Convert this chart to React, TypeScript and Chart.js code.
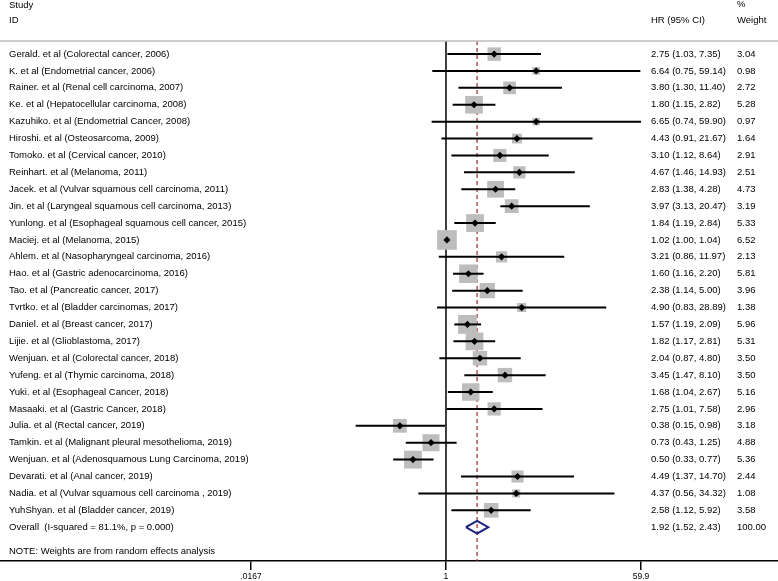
import React, { useEffect, useRef } from 'react';
import { Chart, registerables } from 'chart.js';

Chart.register(...registerables);

const studies = [
  'Gerald. et al (Colorectal cancer, 2006)',
  'K. et al (Endometrial cancer, 2006)',
  'Rainer. et al (Renal cell carcinoma, 2007)',
  'Ke. et al (Hepatocellular carcinoma, 2008)',
  'Kazuhiko. et al (Endometrial Cancer, 2008)',
  'Hiroshi. et al (Osteosarcoma, 2009)',
  'Tomoko. et al (Cervical cancer, 2010)',
  'Reinhart. et al (Melanoma, 2011)',
  'Jacek. et al (Vulvar squamous cell carcinoma, 2011)',
  'Jin. et al (Laryngeal squamous cell carcinoma, 2013)',
  'Yunlong. et al (Esophageal squamous cell cancer, 2015)',
  'Maciej. et al (Melanoma, 2015)',
  'Ahlem. et al (Nasopharyngeal carcinoma, 2016)',
  'Hao. et al (Gastric adenocarcinoma, 2016)',
  'Tao. et al (Pancreatic cancer, 2017)',
  'Tvrtko. et al (Bladder carcinomas, 2017)',
  'Daniel. et al (Breast cancer, 2017)',
  'Lijie. et al (Glioblastoma, 2017)',
  'Wenjuan. et al (Colorectal cancer, 2018)',
  'Yufeng. et al (Thymic carcinoma, 2018)',
  'Yuki. et al (Esophageal Cancer, 2018)',
  'Masaaki. et al (Gastric Cancer, 2018)',
  'Julia. et al (Rectal cancer, 2019)',
  'Tamkin. et al (Malignant pleural mesothelioma, 2019)',
  'Wenjuan. et al (Adenosquamous Lung Carcinoma, 2019)',
  'Devarati. et al (Anal cancer, 2019)',
  'Nadia. et al (Vulvar squamous cell carcinoma , 2019)',
  'YuhShyan. et al (Bladder cancer, 2019)',
];

const hr = [2.75, 6.64, 3.8, 1.8, 6.65, 4.43, 3.1, 4.67, 2.83, 3.97, 1.84, 1.02, 3.21, 1.6, 2.38, 4.9, 1.57, 1.82, 2.04, 3.45, 1.68, 2.75, 0.38, 0.73, 0.5, 4.49, 4.37, 2.58];
const lower = [1.03, 0.75, 1.3, 1.15, 0.74, 0.91, 1.12, 1.46, 1.38, 3.13, 1.19, 1.0, 0.86, 1.16, 1.14, 0.83, 1.19, 1.17, 0.87, 1.47, 1.04, 1.01, 0.15, 0.43, 0.33, 1.37, 0.56, 1.12];
const upper = [7.35, 59.14, 11.4, 2.82, 59.9, 21.67, 8.64, 14.93, 4.28, 20.47, 2.84, 1.04, 11.97, 2.2, 5.0, 28.89, 2.09, 2.81, 4.8, 8.1, 2.67, 7.58, 0.98, 1.25, 0.77, 14.7, 34.32, 5.92];
const weights = [3.04, 0.98, 2.72, 5.28, 0.97, 1.64, 2.91, 2.51, 4.73, 3.19, 5.33, 6.52, 2.13, 5.81, 3.96, 1.38, 5.96, 5.31, 3.5, 3.5, 5.16, 2.96, 3.18, 4.88, 5.36, 2.44, 1.08, 3.58];

const overallLabel = 'Overall  (I-squared = 81.1%, p = 0.000)';
const overallHR = 1.92;
const overallLower = 1.52;
const overallUpper = 2.43;
const overallWeight = 100.0;

const noteText = 'NOTE: Weights are from random effects analysis';
const headerLeft = ['Study', 'ID'];
const headerHR = 'HR (95% CI)';
const headerWeight = ['%', 'Weight'];

const tickValues = [0.0167, 1, 59.9];
const tickLabels = ['.0167', '1', '59.9'];

const FONT = '"Liberation Sans", Arial, Helvetica, sans-serif';

export default function App() {
  const ref = useRef<HTMLCanvasElement | null>(null);

  useEffect(() => {
    const canvas = ref.current;
    if (!canvas) return;
    const n = studies.length;
    const overallRow = n;
    const noteRow = n + 1.42;
    const headerLineRow = -0.77;
    const yMin = -3.2;
    const yMax = 30.0;

    const ciDatasets = studies.map((_, i) => ({
      data: [
        { x: lower[i], y: i },
        { x: upper[i], y: i },
      ],
      showLine: true,
      borderColor: '#000',
      borderWidth: 2,
      pointRadius: 0,
      order: 2,
    }));

    const textPlugin = {
      id: 'forestText',
      afterDatasetsDraw(chart: any) {
        const { ctx, scales } = chart;
        const ys = scales.y;
        const W = chart.width;
        ctx.save();
        ctx.strokeStyle = '#bdbdbd';
        ctx.lineWidth = 1.5;
        const ly = ys.getPixelForValue(headerLineRow);
        ctx.beginPath();
        ctx.moveTo(0, ly);
        ctx.lineTo(W, ly);
        ctx.stroke();

        ctx.fillStyle = '#000';
        ctx.font = `9.5px ${FONT}`;
        ctx.textBaseline = 'middle';
        ctx.textAlign = 'left';
        const xLabel = 9;
        const xHR = 651;
        const xW = 737;
        ctx.fillText(headerLeft[0], xLabel, ys.getPixelForValue(-2.9));
        ctx.fillText(headerLeft[1], xLabel, ys.getPixelForValue(-2.02));
        ctx.fillText(headerHR, xHR, ys.getPixelForValue(-2.02));
        ctx.fillText(headerWeight[0], xW, ys.getPixelForValue(-2.95));
        ctx.fillText(headerWeight[1], xW, ys.getPixelForValue(-2.02));
        studies.forEach((s, i) => {
          const y = ys.getPixelForValue(i);
          ctx.fillText(s, xLabel, y);
          ctx.fillText(`${hr[i].toFixed(2)} (${lower[i].toFixed(2)}, ${upper[i].toFixed(2)})`, xHR, y);
          ctx.fillText(weights[i].toFixed(2), xW, y);
        });
        const oy = ys.getPixelForValue(overallRow);
        ctx.fillText(overallLabel, xLabel, oy);
        ctx.fillText(`${overallHR.toFixed(2)} (${overallLower.toFixed(2)}, ${overallUpper.toFixed(2)})`, xHR, oy);
        ctx.fillText(overallWeight.toFixed(2), xW, oy);
        ctx.fillText(noteText, xLabel, ys.getPixelForValue(noteRow));
        ctx.restore();
      },
    };

    const chart = new Chart(canvas, {
      type: 'scatter',
      data: {
        datasets: [
          {
            data: hr.map((v, i) => ({ x: v, y: i })),
            pointStyle: 'rectRot',
            pointRadius: 3.6,
            backgroundColor: '#000',
            borderColor: '#000',
            borderWidth: 0,
            order: 0,
          },
          ...ciDatasets,
          {
            data: hr.map((v, i) => ({ x: v, y: i })),
            pointStyle: 'rect',
            pointRadius: weights.map((w) => (7.7 * Math.sqrt(w)) / Math.SQRT2),
            backgroundColor: '#bdbdbd',
            borderWidth: 0,
            order: 3,
          },
          {
            data: [
              { x: overallLower, y: overallRow },
              { x: overallHR, y: overallRow - 0.38 },
              { x: overallUpper, y: overallRow },
              { x: overallHR, y: overallRow + 0.38 },
              { x: overallLower, y: overallRow },
            ],
            showLine: true,
            borderColor: '#1a2380',
            borderWidth: 2,
            pointRadius: 0,
            order: 1,
          },
          {
            data: [
              { x: 1, y: headerLineRow },
              { x: 1, y: yMax },
            ],
            showLine: true,
            borderColor: '#000',
            borderWidth: 1.5,
            pointRadius: 0,
            order: 5,
          },
          {
            data: [
              { x: overallHR, y: headerLineRow },
              { x: overallHR, y: yMax },
            ],
            showLine: true,
            borderColor: '#a3262b',
            borderWidth: 1.2,
            borderDash: [4, 3],
            pointRadius: 0,
            order: 4,
          },
        ] as any,
      },
      options: {
        animation: false,
        responsive: false,
        maintainAspectRatio: false,
        layout: { padding: 0, autoPadding: false },
        plugins: {
          legend: { display: false },
          tooltip: { enabled: false },
        },
        scales: {
          x: {
            type: 'logarithmic',
            min: 8.6e-5,
            max: 1063,
            position: 'bottom',
            afterBuildTicks: (scale: any) => {
              scale.ticks = tickValues.map((v) => ({ value: v }));
            },
            afterFit: (scale: any) => {
              scale.height = 20;
            },
            ticks: {
              autoSkip: false,
              maxRotation: 0,
              padding: 2,
              color: '#000',
              font: { family: FONT, size: 8.5 },
              callback: (value: any) => {
                const idx = tickValues.findIndex((t) => Math.abs(t - Number(value)) < 1e-9);
                return idx >= 0 ? tickLabels[idx] : '';
              },
            },
            grid: {
              drawOnChartArea: false,
              drawTicks: true,
              tickLength: 9,
              color: '#000',
              lineWidth: 1.5,
            },
            border: { display: true, color: '#000', width: 1.5 },
          },
          y: {
            type: 'linear',
            display: false,
            reverse: true,
            min: yMin,
            max: yMax,
          },
        },
      } as any,
      plugins: [textPlugin],
    });
    return () => chart.destroy();
  }, []);

  return (
    <div style={{ position: 'absolute', left: 0, top: 0, width: 778, height: 581, background: '#fff' }}>
      <canvas ref={ref} width={778} height={581} style={{ display: 'block' }} />
    </div>
  );
}
